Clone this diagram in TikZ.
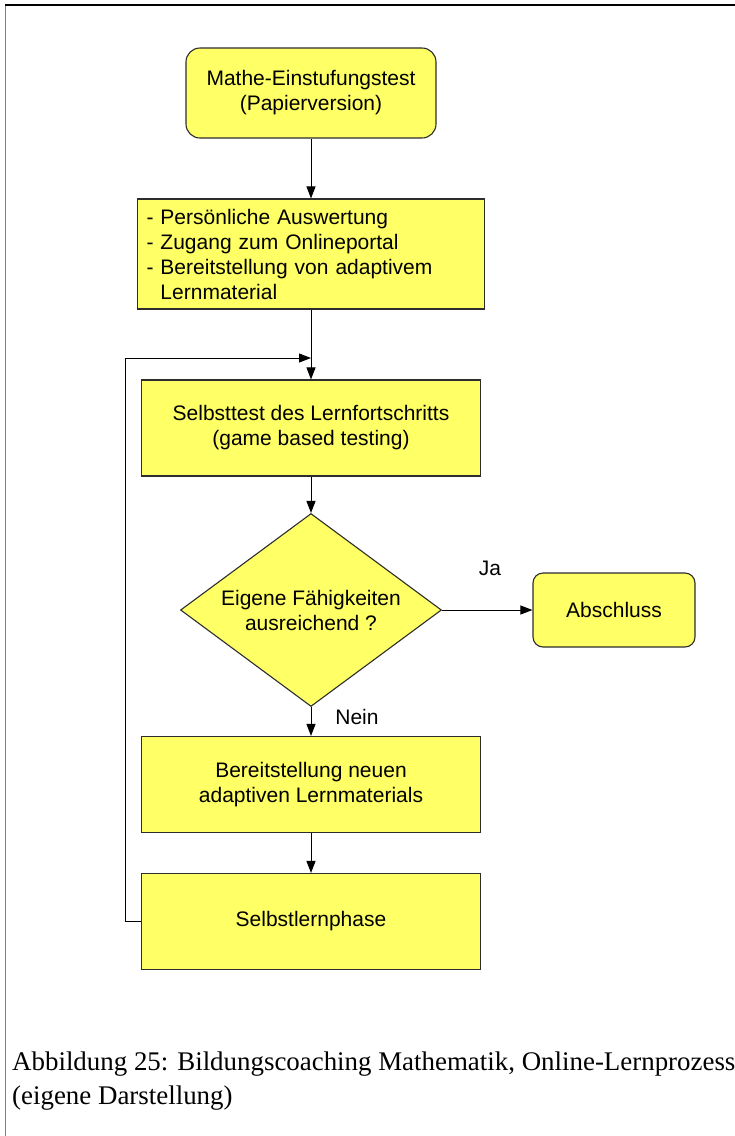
\documentclass[tikz,border=0pt]{standalone}
\usepackage{fontspec}
\setmainfont{Liberation Sans}
\newfontfamily\capfont{Liberation Serif}
\usetikzlibrary{shapes.geometric,arrows.meta}
\definecolor{boxyellow}{RGB}{255,255,102}
\definecolor{boxline}{RGB}{45,45,45}
\begin{document}
\begin{tikzpicture}[x=1pt,y=-1pt,
  every node/.style={font=\fontsize{21}{25}\selectfont},
  base/.style={draw=boxline, fill=boxyellow, line width=1.1pt, inner sep=0pt, align=center},
  roundbox/.style={base, rounded corners=14pt},
  rectbox/.style={base, minimum width=339pt, minimum height=96pt},
  decision/.style={base, diamond, aspect=1.35, minimum width=261pt, minimum height=193pt},
  flow/.style={draw=black, line width=1pt, -{Triangle[length=12pt,width=9pt]}},
  lbl/.style={inner sep=0pt}
]
\useasboundingbox (0,0) rectangle (735,1136);
% page frame (top and left edges)
\draw[line width=1.5pt, gray] (5.5,5) -- (5.5,1136);
\draw[line width=1.5pt, black] (5,5) -- (735,5);

% flow chart nodes
\node[roundbox, minimum width=250pt, minimum height=90pt] (start) at (311,93)
  {Mathe-Einstufungstest\\(Papierversion)};
\node[base, minimum width=347pt, minimum height=110pt, text width=329pt, align=left] (info) at (311,254)
  {- Persönliche Auswertung\\- Zugang zum Onlineportal\\- Bereitstellung von adaptivem\\\phantom{- }Lernmaterial};
\node[rectbox] (test) at (311,428) {Selbsttest des Lernfortschritts\\(game based testing)};
\node[decision] (dec) at (311,610) {Eigene Fähigkeiten\\ausreichend ?};
\node[roundbox, rounded corners=10pt, minimum width=162pt, minimum height=74pt] (end) at (614,610) {Abschluss};
\node[rectbox] (mat) at (311,784.5) {Bereitstellung neuen\\adaptiven Lernmaterials};
\node[rectbox] (self) at (311,921.5) {Selbstlernphase};

% branch labels
\node[lbl] (ja) at (490,568) {Ja};
\node[lbl] (nein) at (357,717) {Nein};

% connectors
\coordinate (join) at (311,358);
\coordinate (loopcol) at (125,358);
\draw[flow] (start.south) -- (info.north);
\draw[flow] (info.south) -- (test.north);
\draw[flow] (self.west) -| (loopcol) -- (join);
\draw[flow] (test.south) -- (dec.north);
\draw[flow] (dec.east) -- (end.west);
\draw[flow] (dec.south) -- (mat.north);
\draw[flow] (mat.south) -- (self.north);

% caption
\node[lbl, anchor=west, align=left, font=\capfont\fontsize{26.9}{34}\selectfont] (cap) at (12,1081)
  {Abbildung 25: Bildungscoaching Mathematik, Online-Lernprozess\\(eigene Darstellung)};
\end{tikzpicture}
\end{document}
